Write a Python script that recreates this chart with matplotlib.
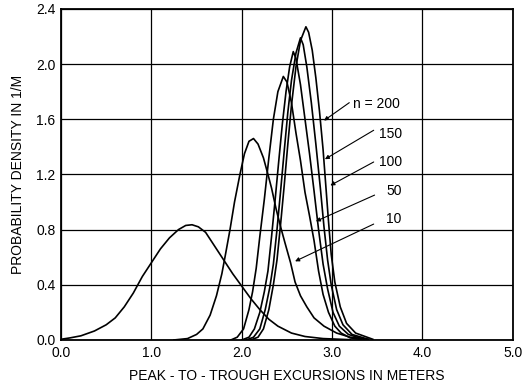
import matplotlib
matplotlib.use("Agg")
import matplotlib.pyplot as plt

plt.rcParams['font.family'] = ['Liberation Sans', 'DejaVu Sans']

# curves (x in meters, y in 1/m)
x_n1 = [0.0, 0.1, 0.22, 0.37, 0.5, 0.6, 0.7, 0.8, 0.9, 1.0, 1.1, 1.2, 1.3, 1.38, 1.45,
        1.52, 1.6, 1.7, 1.8, 1.9, 2.0, 2.1, 2.2, 2.3, 2.4, 2.55, 2.7, 2.9, 3.2]
y_n1 = [0.005, 0.015, 0.03, 0.065, 0.11, 0.16, 0.24, 0.34, 0.46, 0.56, 0.66, 0.74, 0.80, 0.83, 0.835,
        0.82, 0.78, 0.68, 0.58, 0.48, 0.39, 0.30, 0.22, 0.15, 0.10, 0.05, 0.025, 0.01, 0.002]

x_n10 = [1.25, 1.40, 1.50, 1.57, 1.65, 1.72, 1.78, 1.82, 1.87, 1.92, 1.98, 2.03, 2.08, 2.13,
         2.18, 2.24, 2.29, 2.33, 2.38, 2.43, 2.48, 2.54, 2.59, 2.65, 2.72, 2.80, 2.91, 3.05, 3.20, 3.40]
y_n10 = [0.0, 0.01, 0.04, 0.08, 0.18, 0.32, 0.48, 0.62, 0.80, 1.00, 1.20, 1.35, 1.44, 1.46,
         1.42, 1.32, 1.20, 1.10, 0.95, 0.82, 0.70, 0.56, 0.42, 0.32, 0.24, 0.16, 0.10, 0.05, 0.02, 0.005]

x_n50 = [1.88, 1.95, 2.02, 2.08, 2.12, 2.16, 2.20, 2.25, 2.30, 2.35, 2.40, 2.46,
         2.50, 2.55, 2.60, 2.65, 2.70, 2.75, 2.80, 2.85, 2.90, 2.96, 3.03, 3.10, 3.20, 3.32]
y_n50 = [0.0, 0.02, 0.08, 0.22, 0.35, 0.52, 0.75, 1.02, 1.32, 1.60, 1.80, 1.91,
         1.87, 1.72, 1.50, 1.30, 1.07, 0.90, 0.72, 0.50, 0.33, 0.20, 0.10, 0.05, 0.015, 0.003]

x_n100 = [2.00, 2.08, 2.14, 2.20, 2.25, 2.29, 2.33, 2.37, 2.41, 2.45, 2.49, 2.53, 2.57,
          2.60, 2.65, 2.70, 2.75, 2.80, 2.85, 2.90, 2.95, 3.01, 3.08, 3.18, 3.35]
y_n100 = [0.0, 0.02, 0.08, 0.20, 0.35, 0.50, 0.75, 1.02, 1.30, 1.57, 1.80, 1.98, 2.09,
          2.04, 1.85, 1.60, 1.35, 1.08, 0.80, 0.55, 0.37, 0.20, 0.10, 0.04, 0.005]

x_n150 = [2.05, 2.13, 2.20, 2.26, 2.31, 2.35, 2.39, 2.43, 2.47, 2.51, 2.55, 2.60, 2.65,
          2.68, 2.72, 2.77, 2.82, 2.87, 2.91, 2.95, 2.99, 3.05, 3.12, 3.22, 3.40]
y_n150 = [0.0, 0.02, 0.08, 0.22, 0.38, 0.55, 0.80, 1.08, 1.37, 1.65, 1.88, 2.08, 2.19,
          2.14, 1.98, 1.72, 1.42, 1.10, 0.82, 0.58, 0.40, 0.22, 0.11, 0.04, 0.005]

x_n200 = [2.10, 2.18, 2.24, 2.30, 2.35, 2.39, 2.43, 2.47, 2.51, 2.55, 2.60, 2.65, 2.71,
          2.74, 2.78, 2.82, 2.86, 2.90, 2.93, 2.96, 2.99, 3.03, 3.09, 3.16, 3.26, 3.45]
y_n200 = [0.0, 0.02, 0.08, 0.22, 0.40, 0.58, 0.84, 1.12, 1.42, 1.70, 1.98, 2.17, 2.27,
          2.23, 2.10, 1.90, 1.66, 1.38, 1.12, 0.86, 0.62, 0.42, 0.24, 0.12, 0.05, 0.005]

curves = [(x_n1, y_n1), (x_n10, y_n10), (x_n50, y_n50),
          (x_n100, y_n100), (x_n150, y_n150), (x_n200, y_n200)]

# labels: text, text position, arrow tail, arrow tip
labels = ["n = 200", "150", "100", "50", "10"]
label_xy = [(3.23, 1.71), (3.52, 1.49), (3.52, 1.29), (3.60, 1.08), (3.60, 0.875)]
arrow_tail = [(3.19, 1.72), (3.46, 1.52), (3.46, 1.29), (3.47, 1.05), (3.46, 0.84)]
arrow_tip = [(2.91, 1.59), (2.92, 1.31), (2.98, 1.12), (2.82, 0.86), (2.59, 0.57)]

fig = plt.figure(figsize=(5.26, 3.85), dpi=100)
ax = fig.add_axes([0.116, 0.117, 0.859, 0.860])

for xs, ys in curves:
    ax.plot(xs, ys, color='black', lw=1.2, solid_joinstyle='round')

for txt, pos, tail, tip in zip(labels, label_xy, arrow_tail, arrow_tip):
    ax.text(pos[0], pos[1], txt, fontsize=10, ha='left', va='center')
    ax.annotate('', xy=tip, xytext=tail,
                arrowprops=dict(arrowstyle='-|>', color='black', lw=0.8,
                                mutation_scale=6, shrinkA=0, shrinkB=0))

ax.set_xlim(0, 5)
ax.set_ylim(0, 2.4)
ax.set_xticks([0, 1, 2, 3, 4, 5])
ax.set_yticks([0, 0.4, 0.8, 1.2, 1.6, 2.0, 2.4])
ax.set_xticklabels(["0.0", "1.0", "2.0", "3.0", "4.0", "5.0"])
ax.set_yticklabels(["0.0", "0.4", "0.8", "1.2", "1.6", "2.0", "2.4"])
ax.tick_params(axis='y', length=0, labelsize=10, pad=4)
ax.tick_params(axis='x', length=0, labelsize=10, pad=4)
ax.grid(True, color='black', lw=0.9)
for s in ax.spines.values():
    s.set_linewidth(1.3)

ax.set_xlabel("PEAK - TO - TROUGH EXCURSIONS IN METERS", fontsize=10, labelpad=7)
ax.set_ylabel("PROBABILITY DENSITY IN 1/M", fontsize=10, labelpad=8)

fig.savefig("out.png", dpi=100)
